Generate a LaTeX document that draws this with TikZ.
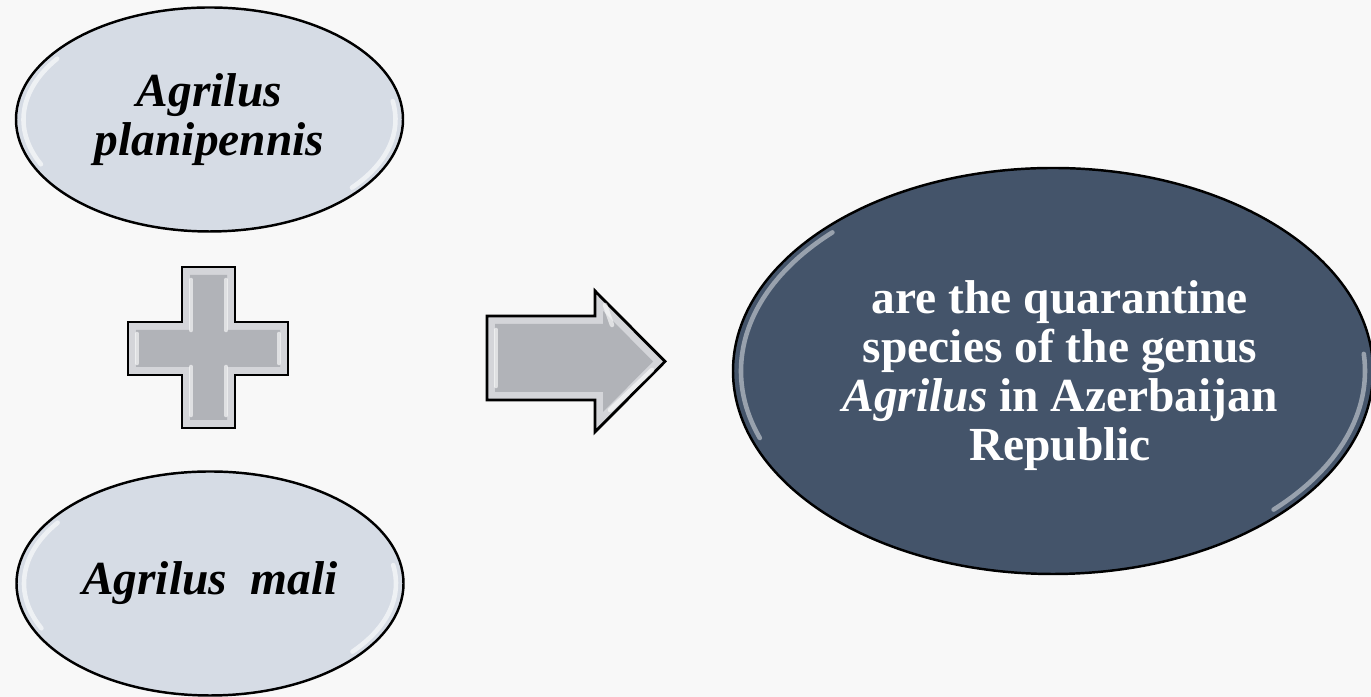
\documentclass[tikz,border=0pt]{standalone}
\usepackage{fontspec}
\setmainfont{Liberation Serif}
\usepackage{tikz}
\usepackage{xcolor}
\usetikzlibrary{shapes.geometric}

\definecolor{pagebg}{HTML}{F8F8F8}
\definecolor{lightoval}{HTML}{D6DCE5}
\definecolor{darkoval}{HTML}{44546A}
\definecolor{signgray}{HTML}{B1B3B8}
\definecolor{bevelgray}{HTML}{D4D5D9}

\begin{document}
\begin{tikzpicture}[
    txt/.style={font=\fontsize{13.5}{14}\selectfont\bfseries, align=center},
    smalloval/.style={ellipse, draw=black, line width=0.7pt, fill=lightoval, inner sep=0pt,
        minimum width=3.87cm, minimum height=2.24cm, txt, font=\fontsize{13.5}{14}\selectfont\bfseries\itshape},
    bigoval/.style={ellipse, draw=black, line width=0.7pt, fill=darkoval, inner sep=0pt,
        minimum width=6.40cm, minimum height=4.06cm},
    shine/.style={white, opacity=0.6, line width=1.3pt, line cap=round},
    signshape/.style={draw=black, line width=0.8pt, fill=bevelgray, line join=miter},
    signface/.style={fill=signgray}
]
    \useasboundingbox[fill=pagebg] (0,0) rectangle (13.71,-6.97);

    % Species ovals
    \node[smalloval] (planipennis) at (2.095,-1.195) {Agrilus\\planipennis};
    \node[smalloval] (mali) at (2.10,-5.835) {Agrilus\ \ mali};

    % Result oval
    \node[bigoval] (result) at (10.53,-3.71) {};
    \node[txt, text=white] (resulttext) at (10.60,-3.755) {are the quarantine\\species of the genus\\\textit{Agrilus} in Azerbaijan\\Republic};

    % Highlights on the ovals
    \draw[shine] ([shift={(145:1.86 and 1.06)}]planipennis.center) arc[start angle=145, end angle=205, x radius=1.86, y radius=1.06];
    \draw[shine] ([shift={(-40:1.86 and 1.06)}]planipennis.center) arc[start angle=-40, end angle=10, x radius=1.86, y radius=1.06];
    \draw[shine] ([shift={(145:1.86 and 1.06)}]mali.center) arc[start angle=145, end angle=205, x radius=1.86, y radius=1.06];
    \draw[shine] ([shift={(-40:1.86 and 1.06)}]mali.center) arc[start angle=-40, end angle=10, x radius=1.86, y radius=1.06];
    \draw[shine, opacity=0.45] ([shift={(135:3.12 and 1.96)}]result.center) arc[start angle=135, end angle=200, x radius=3.12, y radius=1.96];
    \draw[shine, opacity=0.45] ([shift={(-45:3.12 and 1.96)}]result.center) arc[start angle=-45, end angle=5, x radius=3.12, y radius=1.96];

    % Plus sign
    \draw[signshape] (1.82,-2.67) -- (2.35,-2.67) -- (2.35,-3.22) -- (2.88,-3.22) -- (2.88,-3.75)
        -- (2.35,-3.75) -- (2.35,-4.28) -- (1.82,-4.28) -- (1.82,-3.75) -- (1.28,-3.75)
        -- (1.28,-3.22) -- (1.82,-3.22) -- cycle;
    \fill[signface] (1.90,-2.75) -- (2.27,-2.75) -- (2.27,-3.30) -- (2.80,-3.30) -- (2.80,-3.67)
        -- (2.27,-3.67) -- (2.27,-4.20) -- (1.90,-4.20) -- (1.90,-3.67) -- (1.36,-3.67)
        -- (1.36,-3.30) -- (1.90,-3.30) -- cycle;
    \draw[shine] (1.91,-2.80) -- (1.91,-3.30);
    \draw[shine] (2.26,-2.80) -- (2.26,-3.30);
    \draw[shine] (1.91,-3.67) -- (1.91,-4.15);
    \draw[shine] (2.26,-3.67) -- (2.26,-4.15);
    \draw[shine] (1.37,-3.34) -- (1.37,-3.63);
    \draw[shine] (2.79,-3.34) -- (2.79,-3.63);

    % Arrow
    \draw[signshape] (4.87,-3.16) -- (5.95,-3.16) -- (5.95,-2.91) -- (6.65,-3.615) -- (5.95,-4.32)
        -- (5.95,-4.00) -- (4.87,-4.00) -- cycle;
    \fill[signface] (4.95,-3.24) -- (6.03,-3.24) -- (6.03,-3.11) -- (6.53,-3.615) -- (6.03,-4.12)
        -- (6.03,-3.92) -- (4.95,-3.92) -- cycle;
    \draw[shine] (4.96,-3.30) -- (4.96,-3.86);
    \draw[shine] (6.05,-3.05) -- (6.12,-3.25);
    \draw[shine] (6.52,-3.70) -- (6.10,-4.10);
\end{tikzpicture}
\end{document}
